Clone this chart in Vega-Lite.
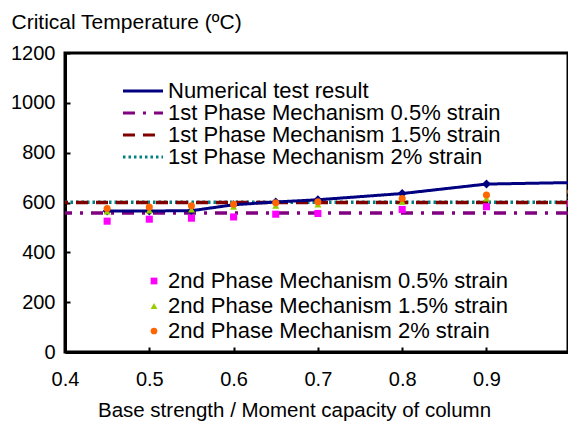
{
  "$schema": "https://vega.github.io/schema/vega-lite/v6.json",
  "autosize": "none",
  "width": 503,
  "height": 299,
  "padding": {"left": 65, "top": 53, "right": 0, "bottom": 70},
  "background": "white",
  "config": {
    "font": "Liberation Sans",
    "view": {"stroke": "black", "strokeWidth": 3},
    "axis": {
      "grid": false,
      "domainColor": "black",
      "domainWidth": 3,
      "tickColor": "black",
      "tickWidth": 2,
      "tickSize": -5,
      "labelColor": "black",
      "labelFontSize": 20,
      "labelFlush": false,
      "titleColor": "black",
      "titleFontWeight": "normal"
    },
    "legend": {"labelColor": "black", "labelLimit": 500, "padding": 0}
  },
  "datasets": {
    "lines": [
      {"series": "Numerical test result", "x": 0.45, "y": 566},
      {"series": "Numerical test result", "x": 0.5, "y": 566},
      {"series": "Numerical test result", "x": 0.55, "y": 567},
      {"series": "Numerical test result", "x": 0.6, "y": 591},
      {"series": "Numerical test result", "x": 0.65, "y": 602},
      {"series": "Numerical test result", "x": 0.7, "y": 611},
      {"series": "Numerical test result", "x": 0.8, "y": 636},
      {"series": "Numerical test result", "x": 0.9, "y": 674},
      {"series": "Numerical test result", "x": 1.0, "y": 680}
    ],
    "rules": [
      {"series": "1st Phase Mechanism 2% strain", "y": 601},
      {"series": "1st Phase Mechanism 0.5% strain", "y": 558},
      {"series": "1st Phase Mechanism 1.5% strain", "y": 600}
    ],
    "points": [
      {"series": "2nd Phase Mechanism 0.5% strain", "x": 0.45, "y": 525},
      {"series": "2nd Phase Mechanism 0.5% strain", "x": 0.5, "y": 533},
      {"series": "2nd Phase Mechanism 0.5% strain", "x": 0.55, "y": 537},
      {"series": "2nd Phase Mechanism 0.5% strain", "x": 0.6, "y": 542},
      {"series": "2nd Phase Mechanism 0.5% strain", "x": 0.65, "y": 553},
      {"series": "2nd Phase Mechanism 0.5% strain", "x": 0.7, "y": 556},
      {"series": "2nd Phase Mechanism 0.5% strain", "x": 0.8, "y": 572},
      {"series": "2nd Phase Mechanism 0.5% strain", "x": 0.9, "y": 583},
      {"series": "2nd Phase Mechanism 0.5% strain", "x": 1.0, "y": 596},
      {"series": "2nd Phase Mechanism 1.5% strain", "x": 0.45, "y": 564},
      {"series": "2nd Phase Mechanism 1.5% strain", "x": 0.5, "y": 568},
      {"series": "2nd Phase Mechanism 1.5% strain", "x": 0.55, "y": 572},
      {"series": "2nd Phase Mechanism 1.5% strain", "x": 0.6, "y": 583},
      {"series": "2nd Phase Mechanism 1.5% strain", "x": 0.65, "y": 587},
      {"series": "2nd Phase Mechanism 1.5% strain", "x": 0.7, "y": 592},
      {"series": "2nd Phase Mechanism 1.5% strain", "x": 0.8, "y": 603},
      {"series": "2nd Phase Mechanism 1.5% strain", "x": 0.9, "y": 616},
      {"series": "2nd Phase Mechanism 1.5% strain", "x": 1.0, "y": 629},
      {"series": "2nd Phase Mechanism 2% strain", "x": 0.45, "y": 576},
      {"series": "2nd Phase Mechanism 2% strain", "x": 0.5, "y": 582},
      {"series": "2nd Phase Mechanism 2% strain", "x": 0.55, "y": 587},
      {"series": "2nd Phase Mechanism 2% strain", "x": 0.6, "y": 593},
      {"series": "2nd Phase Mechanism 2% strain", "x": 0.65, "y": 599},
      {"series": "2nd Phase Mechanism 2% strain", "x": 0.7, "y": 603},
      {"series": "2nd Phase Mechanism 2% strain", "x": 0.8, "y": 616},
      {"series": "2nd Phase Mechanism 2% strain", "x": 0.9, "y": 630},
      {"series": "2nd Phase Mechanism 2% strain", "x": 1.0, "y": 643}
    ]
  },
  "layer": [
    {
      "layer": [
        {
          "data": {"name": "rules"},
          "mark": {"type": "rule", "strokeWidth": 3.5, "clip": true},
          "encoding": {
            "y": {"field": "y", "type": "quantitative"},
            "color": {"field": "series", "type": "nominal"},
            "strokeDash": {"field": "series", "type": "nominal"}
          }
        },
        {
          "data": {"name": "lines"},
          "mark": {"type": "line", "strokeWidth": 3, "clip": true},
          "encoding": {
            "x": {
              "field": "x", "type": "quantitative",
              "scale": {"domain": [0.4, 0.9967], "nice": false, "zero": false},
              "axis": {
                "values": [0.4, 0.5, 0.6, 0.7, 0.8, 0.9],
                "format": ".1f",
                "labelPadding": 22,
                "title": "Base strength / Moment capacity of column",
                "titleFontSize": 20.5,
                "titleX": 229,
                "titleY": 58,
                "titleBaseline": "middle",
                "titleAnchor": null
              }
            },
            "y": {
              "field": "y", "type": "quantitative",
              "scale": {"domain": [0, 1200], "nice": false},
              "axis": {
                "values": [0, 200, 400, 600, 800, 1000, 1200],
                "format": "d",
                "labelPadding": 15,
                "title": "Critical Temperature (ºC)",
                "titleFontSize": 21,
                "titleAngle": 0,
                "titleAlign": "left",
                "titleBaseline": "middle",
                "titleX": -54,
                "titleY": -31
              }
            },
            "color": {
              "field": "series", "type": "nominal",
              "scale": {
                "domain": ["Numerical test result", "1st Phase Mechanism 0.5% strain", "1st Phase Mechanism 1.5% strain", "1st Phase Mechanism 2% strain"],
                "range": ["#000080", "#800080", "#800000", "#008080"]
              },
              "legend": {
                "title": null,
                "orient": "none",
                "legendX": 67,
                "legendY": 27,
                "symbolType": "M-3,0H3",
                "symbolSize": 178,
                "symbolStrokeWidth": 3,
                "labelFontSize": 22,
                "labelOffset": 14,
                "rowPadding": 0
              }
            },
            "strokeDash": {
              "field": "series", "type": "nominal",
              "scale": {
                "domain": ["Numerical test result", "1st Phase Mechanism 0.5% strain", "1st Phase Mechanism 1.5% strain", "1st Phase Mechanism 2% strain"],
                "range": [[1, 0], [12, 8, 3, 8], [12, 8], [2.5, 3]]
              },
              "legend": {
                "title": null,
                "orient": "none",
                "legendX": 67,
                "legendY": 27,
                "symbolType": "M-3,0H3",
                "symbolSize": 178,
                "symbolStrokeWidth": 3,
                "labelFontSize": 22,
                "labelOffset": 14,
                "rowPadding": 0
              }
            }
          }
        },
        {
          "data": {"name": "lines"},
          "mark": {"type": "point", "shape": "diamond", "filled": true, "size": 80, "color": "#000080", "opacity": 1, "clip": true},
          "encoding": {
            "x": {"field": "x", "type": "quantitative"},
            "y": {"field": "y", "type": "quantitative"}
          }
        }
      ]
    },
    {
      "data": {"name": "points"},
      "mark": {"type": "point", "filled": true, "size": 50, "opacity": 1, "clip": true},
      "encoding": {
        "x": {"field": "x", "type": "quantitative"},
        "y": {"field": "y", "type": "quantitative"},
        "color": {
          "field": "series", "type": "nominal",
          "scale": {
            "domain": ["2nd Phase Mechanism 0.5% strain", "2nd Phase Mechanism 1.5% strain", "2nd Phase Mechanism 2% strain"],
            "range": ["#FF00FF", "#99CC00", "#FF6600"]
          },
          "legend": {
            "title": null,
            "orient": "none",
            "legendX": 78,
            "legendY": 217,
            "symbolSize": 45,
            "labelFontSize": 22,
            "labelOffset": 3,
            "rowPadding": 3
          }
        },
        "shape": {
          "field": "series", "type": "nominal",
          "scale": {
            "domain": ["2nd Phase Mechanism 0.5% strain", "2nd Phase Mechanism 1.5% strain", "2nd Phase Mechanism 2% strain"],
            "range": ["square", "triangle-up", "circle"]
          },
          "legend": {
            "title": null,
            "orient": "none",
            "legendX": 78,
            "legendY": 217,
            "symbolSize": 45,
            "labelFontSize": 22,
            "labelOffset": 3,
            "rowPadding": 3
          }
        }
      }
    }
  ],
  "resolve": {"scale": {"color": "independent", "shape": "independent", "strokeDash": "independent"}}
}
